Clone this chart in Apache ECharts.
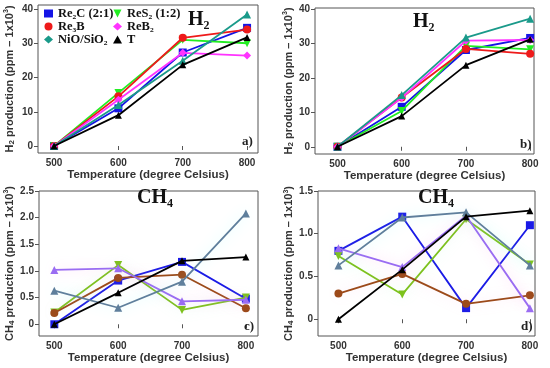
<!DOCTYPE html>
<html><head><meta charset="utf-8">
<script src="https://cdn.jsdelivr.net/npm/echarts@6/dist/echarts.min.js"></script>
<style>html,body{margin:0;padding:0;background:#fff}#c{width:550px;height:368px}</style>
</head><body><div id="c"></div>
<script>
// ---- data ----
const temps = [500, 600, 700, 800];
const materials = ['Re₂C (2:1)', 'ReS₂ (1:2)', 'Re₃B', 'ReB₂', 'NiO/SiO₂', 'T'];
// H2 production, panel a
const h2A_Re2C = [0, 11, 27.3, 34.5];
const h2A_ReS2 = [0, 15.5, 31, 30];
const h2A_Re3B = [0, 14.5, 31.6, 34];
const h2A_ReB2 = [0, 13.5, 27.2, 26.4];
const h2A_NiO  = [0, 12, 24.9, 38.4];
const h2A_T    = [0, 9, 23.7, 31.7];
// H2 production, panel b
const h2B_Re2C = [0, 11.6, 28.1, 31.6];
const h2B_ReS2 = [0, 10.4, 29.3, 28.3];
const h2B_Re3B = [0, 14.3, 28.4, 27];
const h2B_ReB2 = [0, 14.2, 30.8, 31];
const h2B_NiO  = [0, 15, 31.7, 37.2];
const h2B_T    = [0, 8.9, 23.7, 31.2];
// CH4 production, panel c
const ch4C_Re2C = [0, 0.82, 1.17, 0.48];
const ch4C_ReS2 = [0.22, 1.11, 0.27, 0.5];
const ch4C_Re3B = [0.21, 0.87, 0.93, 0.3];
const ch4C_ReB2 = [1.02, 1.05, 0.43, 0.46];
const ch4C_NiO  = [0.63, 0.31, 0.8, 2.08];
const ch4C_T    = [0, 0.59, 1.19, 1.26];
// CH4 production, panel d
const ch4D_Re2C = [0.8, 1.2, 0.13, 1.1];
const ch4D_ReS2 = [0.74, 0.29, 1.17, 0.64];
const ch4D_Re3B = [0.3, 0.53, 0.18, 0.28];
const ch4D_ReB2 = [0.83, 0.61, 1.21, 0.13];
const ch4D_NiO  = [0.63, 1.19, 1.25, 0.63];
const ch4D_T    = [0, 0.58, 1.2, 1.27];
// tick labels
const xTicks = [500, 600, 700, 800];
const yTicksH2 = [0, 10, 20, 30, 40];
const yTicksC = [0, 0.5, 1.0, 1.5, 2.0, 2.5];
const yTicksD = [0, 0.5, 1.0, 1.5];

// ---- styling ----
const topColors = ['#1414e6', '#22ee22', '#ee1a1a', '#ff33ff', '#1a9a8a', '#000000'];
const botColors = ['#1a1ae6', '#7cc21c', '#9c4a1a', '#9a6cf2', '#5f7f9c', '#000000'];
const botGlow = [null, 'rgba(160,255,200,0.35)', 'rgba(255,170,220,0.35)', 'rgba(255,150,230,0.45)', 'rgba(140,255,255,0.45)', null];
const topSymbols = ['rect', 'triangle', 'circle', 'diamond', 'triangle', 'triangle'];
const botSymbols = ['rect', 'triangle', 'circle', 'triangle', 'triangle', 'triangle'];
const symRot = [0, 180, 0, 0, 0, 0];

const panels = [
  {sets: [h2A_Re2C, h2A_ReS2, h2A_Re3B, h2A_ReB2, h2A_NiO, h2A_T], colors: topColors, symbols: topSymbols, glow: null},
  {sets: [h2B_Re2C, h2B_ReS2, h2B_Re3B, h2B_ReB2, h2B_NiO, h2B_T], colors: topColors, symbols: topSymbols, glow: null},
  {sets: [ch4C_Re2C, ch4C_ReS2, ch4C_Re3B, ch4C_ReB2, ch4C_NiO, ch4C_T], colors: botColors, symbols: botSymbols, glow: botGlow},
  {sets: [ch4D_Re2C, ch4D_ReS2, ch4D_Re3B, ch4D_ReB2, ch4D_NiO, ch4D_T], colors: botColors, symbols: botSymbols, glow: botGlow}
];

const grids = [
  {left: 38, top: 5, width: 220, height: 148},
  {left: 315, top: 8, width: 219, height: 146},
  {left: 39, top: 191, width: 219, height: 145},
  {left: 318, top: 191, width: 217, height: 145}
];
const xRanges = [[475, 817], [465, 806], [476, 819], [468, 808]];
const yRanges = [[-2.04, 41.17], [-2.1, 40.3], [-0.22, 2.5], [-0.196, 1.5]];
const yTicksAll = [yTicksH2, yTicksH2, yTicksC, yTicksD];
const yNames = ['H', 'H', 'CH', 'CH'];
const ySubs = ['2', '2', '4', '4'];
const yGaps = [22, 19, 23, 22];

const sans = 'Liberation Sans, Arial, sans-serif';
const serif = 'Liberation Serif, Times New Roman, serif';

const xAxes = grids.map((g, i) => ({
  gridIndex: i, type: 'value', min: xRanges[i][0], max: xRanges[i][1],
  axisLine: {show: false},
  axisTick: {show: true, length: 4, customValues: xTicks, lineStyle: {color: '#555'}},
  axisLabel: {customValues: xTicks, color: '#333', fontFamily: sans, fontWeight: 'bold', fontSize: 10, margin: 5},
  splitLine: {show: false},
  name: 'Temperature (degree Celsius)', nameLocation: 'middle', nameGap: 15,
  nameTextStyle: {color: '#333', fontFamily: sans, fontWeight: 'bold', fontSize: 11.5}
}));
const yAxes = grids.map((g, i) => ({
  gridIndex: i, type: 'value', min: yRanges[i][0], max: yRanges[i][1],
  axisLine: {show: false},
  axisTick: {show: true, length: 4, customValues: yTicksAll[i], lineStyle: {color: '#555'}},
  axisLabel: {customValues: yTicksAll[i], color: '#333', fontFamily: sans, fontWeight: 'bold', fontSize: 10, margin: 5,
    formatter: v => (i < 2 ? String(v) : (v === 0 ? '0' : v.toFixed(1)))},
  splitLine: {show: false},
  name: '{t|' + yNames[i] + '}{s|' + ySubs[i] + '}{t| production (ppm – 1x10}{p|3}{t|)}',
  nameLocation: 'middle', nameGap: yGaps[i],
  nameTextStyle: {rich: {
    t: {color: '#333', fontFamily: sans, fontWeight: 'bold', fontSize: 11},
    s: {color: '#333', fontFamily: sans, fontWeight: 'bold', fontSize: 8, verticalAlign: 'bottom', padding: [5, 0, 0, 0]},
    p: {color: '#333', fontFamily: sans, fontWeight: 'bold', fontSize: 7, verticalAlign: 'top', padding: [0, 0, 5, 0]}
  }}
}));

const series = [];
panels.forEach((p, pi) => {
  p.sets.forEach((vals, si) => {
    const glow = p.glow && p.glow[si];
    const ls = {color: p.colors[si], width: 1.8};
    if (glow) { ls.shadowColor = glow; ls.shadowBlur = 12; }
    series.push({
      name: materials[si], type: 'line', xAxisIndex: pi, yAxisIndex: pi,
      data: temps.map((t, k) => [t, vals[k]]),
      symbol: p.symbols[si], symbolRotate: symRot[si], symbolSize: si === 5 ? 7 : 8,
      itemStyle: {color: p.colors[si]},
      lineStyle: ls,
      z: 2 + si, animation: false
    });
  });
});

const titleTxt = [
  {text: 'H₂', left: 188, top: 10}, {text: 'H₂', left: 413, top: 12},
  {text: 'CH₄', left: 137, top: 188}, {text: 'CH₄', left: 418, top: 188}
].map(t => ({text: t.text, left: t.left, top: t.top, padding: 0,
  textStyle: {fontFamily: serif, fontWeight: 'bold', fontSize: 20, color: '#111'}}));
const panelLbl = [
  {text: 'a)', left: 242, top: 135}, {text: 'b)', left: 520, top: 138},
  {text: 'c)', left: 244, top: 320}, {text: 'd)', left: 521, top: 320}
].map(t => ({text: t.text, left: t.left, top: t.top, padding: 0,
  textStyle: {fontFamily: serif, fontWeight: 'bold', fontSize: 13, color: '#222'}}));

const legendText = {fontFamily: serif, fontWeight: 'bold', fontSize: 12.5, color: '#111'};
const option = {
  animation: false,
  backgroundColor: '#fff',
  title: titleTxt.concat(panelLbl),
  legend: [
    {orient: 'vertical', left: 44, top: 7, itemGap: 0, itemWidth: 9, itemHeight: 8, padding: 0,
     data: [materials[0], materials[2], materials[4]].map((n, k) => ({name: n, icon: ['rect', 'circle', 'diamond'][k]})),
     textStyle: legendText, selectedMode: false},
    {orient: 'vertical', left: 113, top: 7, itemGap: 0, itemWidth: 9, itemHeight: 8, padding: 0,
     data: [materials[1], materials[3], materials[5]].map((n, k) => ({name: n, icon: ['path://M0,0L10,0L5,10Z', 'diamond', 'triangle'][k]})),
     textStyle: legendText, selectedMode: false}
  ],
  grid: grids.map(g => Object.assign({show: true, borderColor: '#555', borderWidth: 1, containLabel: false}, g)),
  xAxis: xAxes,
  yAxis: yAxes,
  series: series
};
const chart = echarts.init(document.getElementById('c'), null, {renderer: 'canvas'});
chart.setOption(option);
</script></body></html>
